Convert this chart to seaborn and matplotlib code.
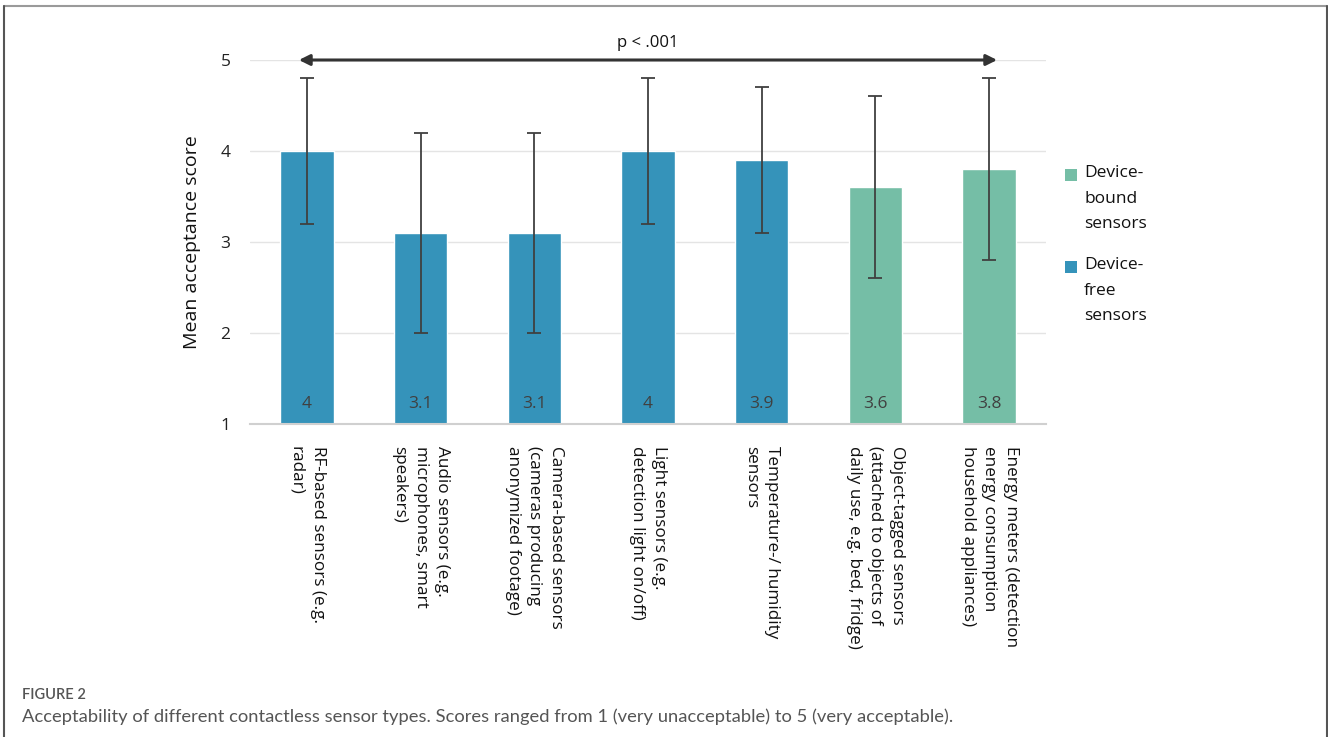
import matplotlib
matplotlib.use("Agg")
import matplotlib.pyplot as plt
from matplotlib.lines import Line2D
from matplotlib.patches import Rectangle
import seaborn as sns
import pandas as pd

categories = [
    "RF-based sensors (e.g.\nradar)",
    "Audio sensors (e.g.\nmicrophones, smart\nspeakers)",
    "Camera-based sensors\n(cameras producing\nanonymized footage)",
    "Light sensors (e.g.\ndetection light on/off)",
    "Temperature-/ humidity\nsensors",
    "Object-tagged sensors\n(attached to objects of\ndaily use, e.g. bed, fridge)",
    "Energy meters (detection\nenergy consumption\nhousehold appliances)",
]
means = [4.0, 3.1, 3.1, 4.0, 3.9, 3.6, 3.8]
errors = [0.8, 1.1, 1.1, 0.8, 0.8, 1.0, 1.0]
groups = ["Device-free sensors"] * 5 + ["Device-bound sensors"] * 2
value_labels = ["4", "3.1", "3.1", "4", "3.9", "3.6", "3.8"]
legend_groups = ["Device-bound sensors", "Device-free sensors"]
legend_labels = ["Device-\nbound\nsensors", "Device-\nfree\nsensors"]
ylabel = "Mean acceptance score"
sig_text = "p < .001"
fig_title = "FIGURE 2"
caption = ("Acceptability of different contactless sensor types. Scores ranged from 1 "
           "(very unacceptable) to 5 (very acceptable).")

blue = "#3593BA"
green = "#75BEA6"
palette = {"Device-free sensors": blue, "Device-bound sensors": green}

sns.set_theme(style="white")
plt.rcParams["font.family"] = ["Open Sans", "DejaVu Sans"]

df = pd.DataFrame({"cat": categories, "mean": means, "err": errors, "group": groups})

W, H = 1328, 737
fig = plt.figure(figsize=(W / 100, H / 100), dpi=100)
ax = fig.add_axes([250 / W, 1 - 424 / H, 796 / W, 364 / H])

sns.barplot(data=df, x="cat", y="mean", hue="group", dodge=False, palette=palette,
            width=0.47, ax=ax, legend=False, errorbar=None, saturation=1)

ax.errorbar(x=range(len(means)), y=means, yerr=errors, fmt="none",
            ecolor="#404040", elinewidth=1.3, capsize=5, capthick=1.3, zorder=5)

for i, (m, lab) in enumerate(zip(means, value_labels)):
    ax.text(i, 1.22, lab, ha="center", va="center", fontsize=12.5, color="#404040", zorder=6)

ax.set_ylim(1, 5)
ax.set_xlim(-0.5, len(categories) - 0.5)
ax.set_yticks([1, 2, 3, 4, 5])
ax.set_yticklabels(["1", "2", "3", "4", "5"], fontsize=12.5, color="#222222")
ax.yaxis.grid(True, color="#E4E4E4", linewidth=1)
ax.set_axisbelow(True)
for s in ["top", "right", "left"]:
    ax.spines[s].set_visible(False)
ax.spines["bottom"].set_color("#D0D0D0")
ax.spines["bottom"].set_linewidth(1.5)
ax.tick_params(axis="y", length=0, pad=14)
ax.tick_params(axis="x", length=0, pad=16)
ax.set_xlabel("")
ax.set_ylabel(ylabel, fontsize=14, color="#111111", labelpad=14)
ax.set_xticks(range(len(categories)))
ax.set_xticklabels(categories, rotation=-90, ha="center", va="top",
                   fontsize=12.3, color="#111111", linespacing=1.45,
                   multialignment="left")

# significance arrow
ax.annotate("", xy=(-0.07, 5), xytext=(6.07, 5),
            arrowprops=dict(arrowstyle="<|-|>", color="#333333", lw=2.2,
                            mutation_scale=16, shrinkA=0, shrinkB=0),
            annotation_clip=False)
ax.text(3.0, 5.19, sig_text, ha="center", va="center", fontsize=12, color="#111111")

# legend (square aligned with first text line)
for lab, grp, ytop in zip(legend_labels, legend_groups, [165, 257]):
    fig.add_artist(Rectangle((1065 / W, 1 - (ytop + 16) / H), 12 / W, 12 / H,
                             transform=fig.transFigure, facecolor=palette[grp],
                             edgecolor="none"))
    fig.text(1084 / W, 1 - ytop / H, lab, fontsize=12.5, color="#111111",
             ha="left", va="top", linespacing=1.8)

# caption
fig.text(22 / W, 1 - 695 / H, fig_title, fontsize=10.5, color="#555555", fontweight="semibold",
         va="center", ha="left", family=["Lato", "DejaVu Sans"])
fig.text(22 / W, 1 - 717 / H, caption, fontsize=13.2, color="#555555",
         va="center", ha="left", family=["Lato", "DejaVu Sans"])

# frame
fig.add_artist(Line2D([4 / W, 1327 / W], [1 - 5.5 / H, 1 - 5.5 / H],
                      transform=fig.transFigure, color="#9A9A9A", lw=1.5))
fig.add_artist(Line2D([4 / W, 4 / W], [0, 1 - 5.5 / H],
                      transform=fig.transFigure, color="#555555", lw=1.5))
fig.add_artist(Line2D([1326.5 / W, 1326.5 / W], [0, 1 - 5.5 / H],
                      transform=fig.transFigure, color="#555555", lw=1.5))

fig.savefig("out.png", dpi=100)
